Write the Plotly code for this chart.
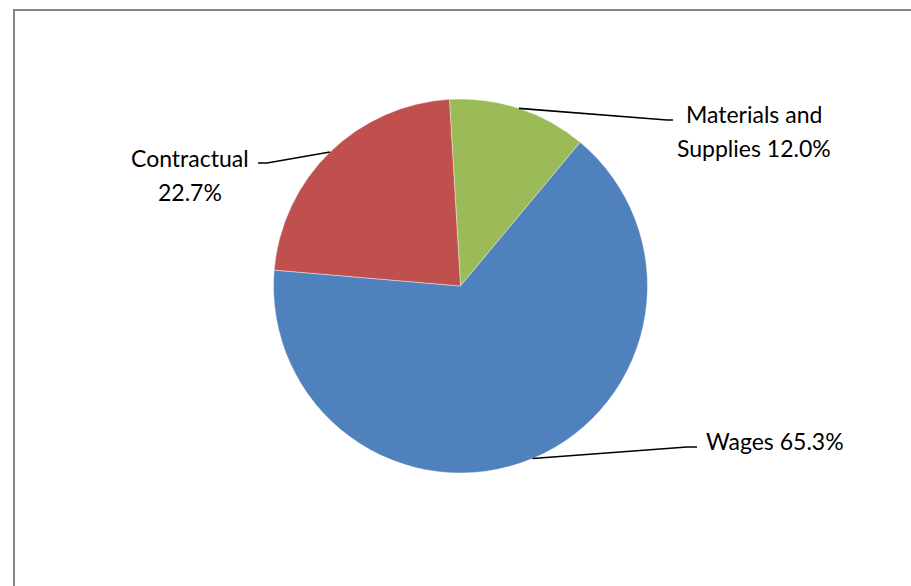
import math
import plotly.graph_objects as go

# Budget shares by category
categories = ["Materials and Supplies", "Wages", "Contractual"]
shares = [12.0, 65.3, 22.7]
colors = ["#9BBB59", "#4F81BD", "#C0504D"]
label_lines = [["Materials and", "Supplies 12.0%"], ["Wages 65.3%"], ["Contractual", "22.7%"]]

W, H = 911, 586
CX, CY, R = 460.5, 286.0, 187.0   # pie centre and radius in pixels
START_DEG = -3.4                   # clockwise angle of the first slice edge from 12 o'clock
LINE_GAP = 34                      # pixels between label text lines

# label placement (pixels): first text line position, anchor, leader elbow and leader end
label_layout = [
    dict(tx=754, ty=114, xanchor="center", elbow=(667, 120), end=(673, 120)),
    dict(tx=704, ty=441, xanchor="left", elbow=(687, 447), end=(697, 447)),
    dict(tx=189.5, ty=158, xanchor="center", elbow=(267, 163), end=(258, 163)),
]


def px(x):
    return x / W


def py(y):
    return 1 - y / H


fig = go.Figure(
    go.Pie(
        labels=categories,
        values=shares,
        sort=False,
        direction="clockwise",
        rotation=START_DEG,
        marker=dict(colors=colors, line=dict(color="white", width=0.4)),
        textinfo="none",
        hoverinfo="label+percent",
        showlegend=False,
        domain=dict(x=[px(CX - R), px(CX + R)], y=[py(CY + R), py(CY - R)]),
    )
)

total = sum(shares)
shapes = []
annotations = []
acc = 0.0
for val, lines, lay in zip(shares, label_lines, label_layout):
    mid = math.radians(START_DEG + 360.0 * (acc + val / 2) / total)
    acc += val
    sx, sy = CX + R * math.sin(mid), CY - R * math.cos(mid)
    ex, ey = lay["elbow"]
    fx, fy = lay["end"]
    path = f"M {px(sx)} {py(sy)} L {px(ex)} {py(ey)} L {px(fx)} {py(fy)}"
    shapes.append(dict(type="path", xref="paper", yref="paper", path=path,
                       line=dict(color="black", width=1.6)))
    for i, line in enumerate(lines):
        annotations.append(dict(
            x=px(lay["tx"]), y=py(lay["ty"] + i * LINE_GAP), xref="paper", yref="paper",
            text=line, showarrow=False, xanchor=lay["xanchor"], yanchor="middle",
            align="center", font=dict(family="Lato", size=23, color="black"),
        ))

# chart frame
shapes.append(dict(type="rect", xref="paper", yref="paper",
                   x0=px(14), x1=px(W + 20), y0=py(H + 20), y1=py(10),
                   line=dict(color="#868686", width=2), fillcolor="rgba(0,0,0,0)"))

fig.update_layout(
    width=W, height=H,
    margin=dict(l=0, r=0, t=0, b=0),
    paper_bgcolor="white", plot_bgcolor="white",
    shapes=shapes, annotations=annotations,
)

fig.write_html("out.html")
